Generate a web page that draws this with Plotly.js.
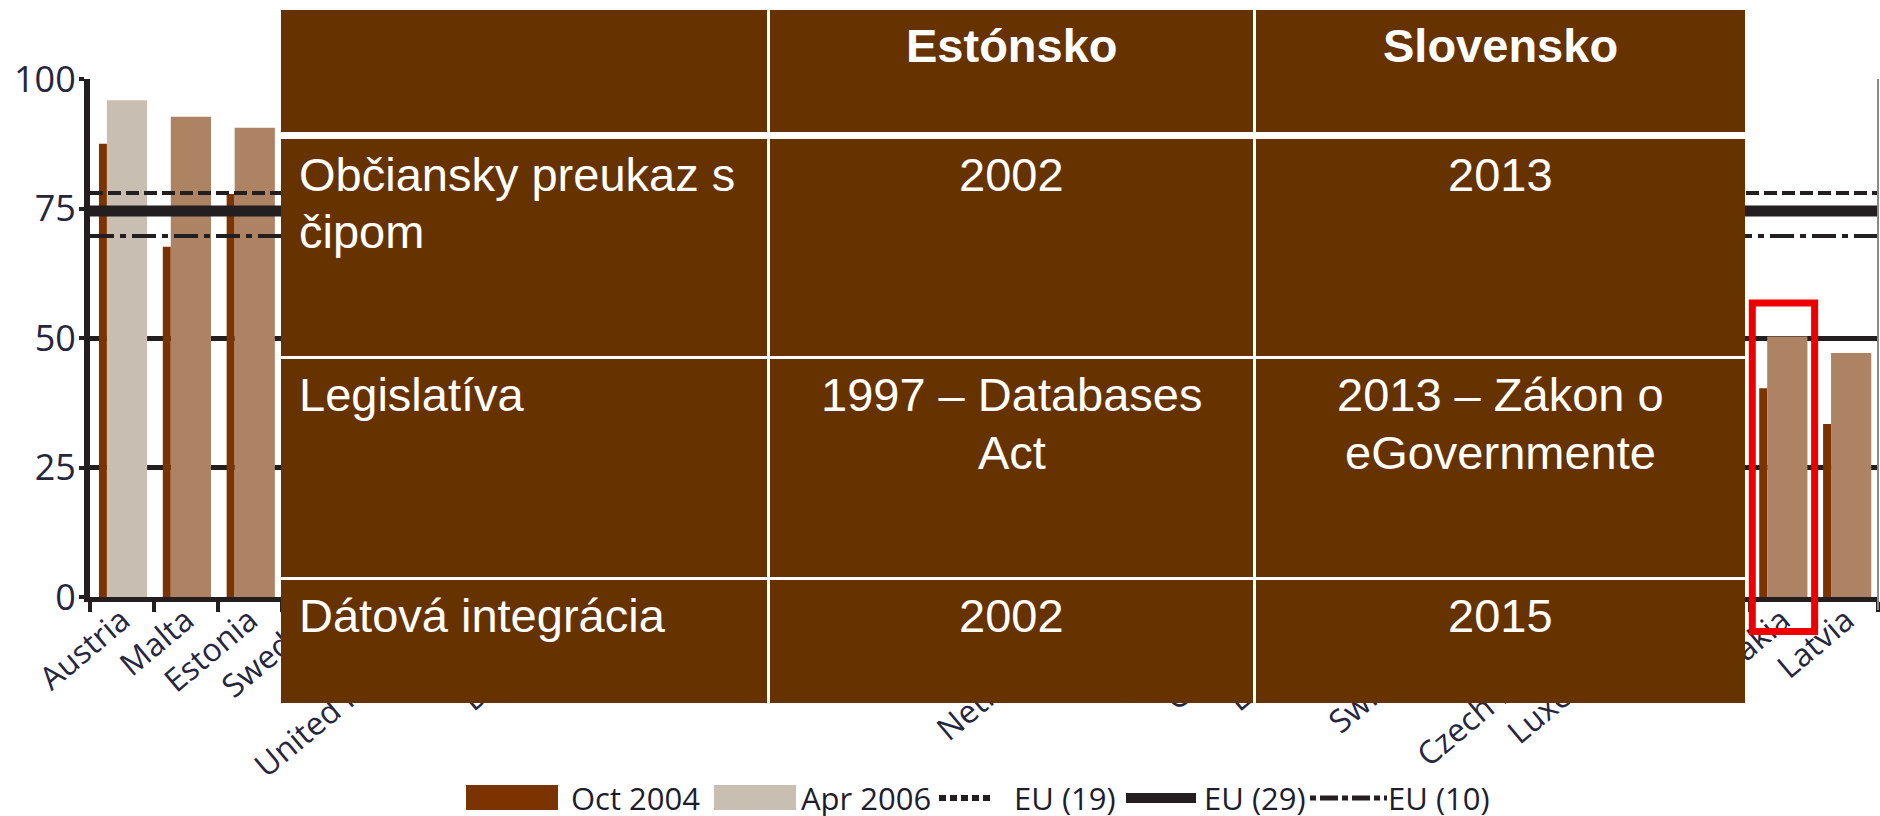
<!DOCTYPE html>
<html><head><meta charset="utf-8">
<script src="https://cdn.plot.ly/plotly-3.0.1.min.js"></script>
<style>html,body{margin:0;padding:0;background:#fff;}#chart{width:1880px;height:816px;}</style>
</head><body><div id="chart"></div>
<script>
// ---------- data ----------
const countries = ["Austria","Malta","Estonia","Sweden","Finland","United Kingdom","Slovenia","Denmark",
  "France","Norway","Iceland","Portugal","Belgium","Ireland","Italy","Netherlands","Spain","Hungary",
  "Germany","Lithuania","Cyprus","Switzerland","Poland","Czech Republic","Luxembourg","Greece","Slovakia","Latvia"];
const oct2004 = [87.5,67.6,77.8,84,82,82,67,77,72,77,68,67,62,77,70,64,65,49,62,43,44,49,38,42,47,45,40.3,33.4];
const apr2006 = [95.9,92.7,90.6,89,88,87,85,84,82,81,80,79,77,75,74,72,71,69,68,66,64,62,60,58,56,53,50.3,47.1];
const newMember = [false,true,true,false,false,false,true,false,false,false,false,false,false,false,false,false,false,true,
  false,true,true,false,true,true,false,false,true,true];
const seriesNames = ["Oct 2004","Apr 2006"];
const refNames = ["EU (19)","EU (29)","EU (10)"];
const refValues = [78.0,74.5,69.7];
const yTicks = [0,25,50,75,100];
const highlighted = "Slovakia";

const tableHeader = ["","Estónsko","Slovensko"];
const tableRowLabels = [["Občiansky preukaz s","čipom"],["Legislatíva"],["Dátová integrácia"]];
const tableEstonia = [["2002"],["1997 – Databases","Act"],["2002"]];
const tableSlovakia = [["2013"],["2013 – Zákon o","eGovernmente"],["2015"]];

// ---------- geometry / style ----------
const W=1880,H=816,ML=90,MR=2,MT=79,MB=219;
const PW=W-ML-MR, PH=H-MT-MB;
const px=x=>(x-ML)/PW, py=y=>(H-MB-y)/PH;
const DARK='#7b3300', GREY='#c8bfb2', TAN='#ad8363', INK='#231f20', LABEL='#26263e', BROWN='#663300';
const TFONT='Liberation Sans, Arial, sans-serif';

const traces=[
  {type:'bar',name:seriesNames[0],x:countries,y:oct2004,marker:{color:DARK},width:0.125,offset:-0.36,showlegend:false},
  {type:'bar',name:seriesNames[1],x:countries,y:apr2006,marker:{color:newMember.map(m=>m?TAN:GREY)},width:0.63,offset:-0.235,showlegend:false}
];
const refStyles=[{width:4,dash:'13px,5px'},{width:11,dash:'solid'},{width:4,dash:'24px,6px,6px,6px'}];
refNames.forEach((n,i)=>traces.push({type:'scatter',mode:'lines',name:n,x:[0,1],y:[refValues[i],refValues[i]],
  xaxis:'x2',yaxis:'y',line:{color:INK,width:refStyles[i].width,dash:refStyles[i].dash},showlegend:false}));

const shapes=[], annotations=[];
// right border
shapes.push({type:'line',xref:'paper',yref:'paper',x0:px(1878),x1:px(1878),y0:py(79),y1:py(610),line:{color:'#8a8a8a',width:2}});
// highlight box around the chosen country
const hi=countries.indexOf(highlighted);
const catW=PW/countries.length;
const hx0=ML+hi*catW+2, hx1=ML+(hi+1)*catW+0.5;
shapes.push({type:'rect',xref:'paper',yref:'paper',x0:px(hx0),x1:px(hx1),y0:py(303),y1:py(631.5),line:{color:'#ee0000',width:7},fillcolor:'rgba(0,0,0,0)'});

// table
const colEdges=[[281,767],[770,1253],[1256,1745]];
const rowEdges=[[10,132],[139,356],[359,577],[580,703]];
shapes.push({type:'rect',xref:'paper',yref:'paper',x0:px(281),x1:px(1745),y0:py(10),y1:py(703),fillcolor:'#ffffff',line:{width:0}});
rowEdges.forEach(r=>colEdges.forEach(c=>shapes.push({type:'rect',xref:'paper',yref:'paper',x0:px(c[0]),x1:px(c[1]),y0:py(r[0]),y1:py(r[1]),fillcolor:BROWN,line:{width:0}})));
const tableRows=[tableHeader.map(t=>t?[t]:[])];
tableRowLabels.forEach((l,i)=>tableRows.push([l,tableEstonia[i],tableSlovakia[i]]));
tableRows.forEach((row,ri)=>{
  row.forEach((lines,ci)=>{
    lines.forEach((txt,li)=>{
      const base=rowEdges[ri][0]+52+li*57.5;
      annotations.push({xref:'paper',yref:'paper',showarrow:false,text:txt,
        x:ci===0?px(colEdges[0][0]+16):px((colEdges[ci][0]+colEdges[ci][1])/2),
        xanchor:ci===0?'left':'center',y:py(base-16.5),yanchor:'middle',
        font:{family:TFONT,size:47,color:'#ffffff',weight:ri===0?700:400}});
    });
  });
});

// custom legend
const LY=798;
const legItems=[
  {kind:'box',color:DARK,x0:466,x1:558,tx:572,name:seriesNames[0]},
  {kind:'box',color:GREY,x0:714,x1:796,tx:802,name:seriesNames[1]},
  {kind:'line',w:6,dash:'7px,4px',x0:939,x1:994,tx:1015,name:refNames[0]},
  {kind:'line',w:10,dash:'solid',x0:1126,x1:1196,tx:1205,name:refNames[1]},
  {kind:'line',w:5,dash:'6px,4px,18px,4px',x0:1310,x1:1387,tx:1389,name:refNames[2]}
];
legItems.forEach(it=>{
  if(it.kind==='box') shapes.push({type:'rect',xref:'paper',yref:'paper',x0:px(it.x0),x1:px(it.x1),y0:py(785),y1:py(810),fillcolor:it.color,line:{width:0}});
  else shapes.push({type:'line',xref:'paper',yref:'paper',x0:px(it.x0),x1:px(it.x1),y0:py(LY),y1:py(LY),line:{color:INK,width:it.w,dash:it.dash}});
  annotations.push({xref:'paper',yref:'paper',showarrow:false,text:it.name,x:px(it.tx-3),xanchor:'left',y:py(LY),yanchor:'middle',
    font:{family:'Open Sans',size:31,color:'#1d1d2e'}});
});

const layout={
  width:W,height:H,margin:{l:ML,r:MR,t:MT,b:MB,pad:0},
  paper_bgcolor:'#ffffff',plot_bgcolor:'#ffffff',showlegend:false,barmode:'overlay',
  xaxis:{type:'category',range:[-0.5,countries.length-0.5],tickson:'boundaries',ticks:'outside',ticklen:10,tickwidth:4,tickcolor:INK,
    showline:true,linewidth:5,linecolor:INK,showgrid:false,zeroline:false,tickangle:-40,ticklabelstandoff:-13,
    tickfont:{family:'Open Sans',size:32,color:LABEL},automargin:false,fixedrange:true},
  xaxis2:{overlaying:'x',range:[0,1],visible:false,fixedrange:true},
  yaxis:{range:[0,100],tickvals:yTicks,ticks:'outside',ticklen:5,tickwidth:4,tickcolor:INK,showline:true,linewidth:6,linecolor:INK,
    showgrid:true,gridcolor:INK,gridwidth:5,zeroline:false,tickfont:{family:'Open Sans',size:36,color:LABEL},ticklabelstandoff:-4,automargin:false,fixedrange:true},
  shapes:shapes,annotations:annotations
};
Plotly.newPlot('chart',traces,layout,{displayModeBar:false,staticPlot:true});
</script></body></html>
